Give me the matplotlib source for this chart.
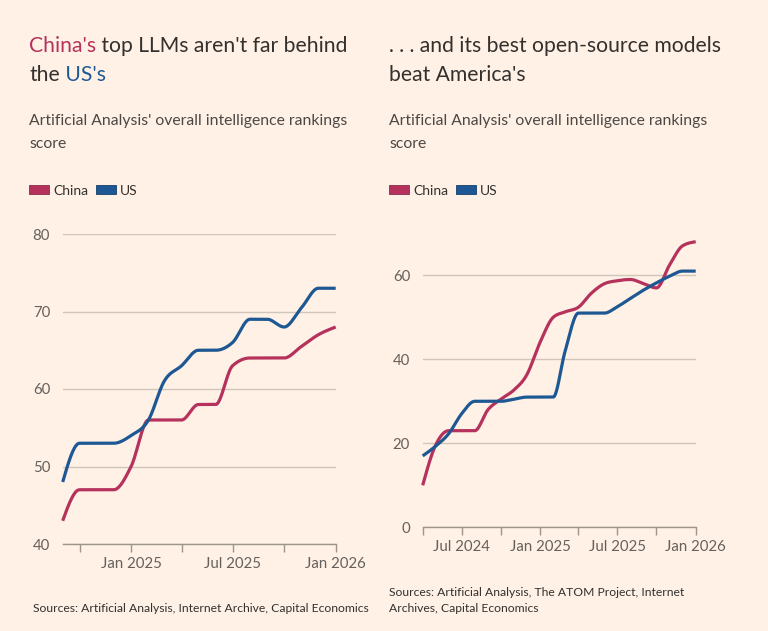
import matplotlib
matplotlib.use('Agg')
import matplotlib.pyplot as plt
import matplotlib.dates as mdates
from matplotlib.patches import Patch
import numpy as np
import pandas as pd

# data (monthly)
left_months = pd.date_range('2024-09-01', '2026-01-01', freq='MS')
left_china = [43, 47, 47, 47, 50, 56, 56, 56, 58, 58, 63, 64, 64, 64, 65.5, 67, 68]
left_us = [48, 53, 53, 53, 54, 56, 61, 63, 65, 65, 66, 69, 69, 68, 70.5, 73, 73]

right_months = pd.date_range('2024-04-01', '2026-01-01', freq='MS')
right_china = [10, 19.5, 23, 23, 23, 28, 30.5, 32.7, 36.3, 44, 50, 51.3, 52.4,
               55.7, 58, 58.7, 59, 58, 57, 62.5, 67, 68]
right_us = [17, 19.3, 22.3, 27, 30, 30, 30, 30.5, 31, 31, 31, 42, 51, 51, 51,
            52.5, 54.5, 56.5, 58.2, 59.8, 61, 61]

BG = '#FFF1E5'
RED = '#B5325D'
BLUE = '#1E5894'
DARK = '#33302E'
GREY = '#66605C'
FONT = ['Lato', 'DejaVu Sans']


def monotone(x, y, n=30):
    # monotone cubic curve, like d3.curveMonotoneX
    x = np.asarray(x, float)
    y = np.asarray(y, float)
    h = np.diff(x)
    s = np.diff(y) / h
    t = np.zeros(len(x))
    for i in range(1, len(x) - 1):
        p = (s[i - 1] * h[i] + s[i] * h[i - 1]) / (h[i - 1] + h[i])
        t[i] = (np.sign(s[i - 1]) + np.sign(s[i])) * min(abs(s[i - 1]), abs(s[i]), 0.5 * abs(p))
    t[0] = (3 * s[0] - t[1]) / 2
    t[-1] = (3 * s[-1] - t[-2]) / 2
    xs, ys = [], []
    for i in range(len(x) - 1):
        u = np.linspace(0, 1, n, endpoint=(i == len(x) - 2))
        h00 = 2 * u**3 - 3 * u**2 + 1
        h10 = u**3 - 2 * u**2 + u
        h01 = -2 * u**3 + 3 * u**2
        h11 = u**3 - u**2
        xs.append(x[i] + u * h[i])
        ys.append(h00 * y[i] + h10 * h[i] * t[i] + h01 * y[i + 1] + h11 * h[i] * t[i + 1])
    return np.concatenate(xs), np.concatenate(ys)


plt.rcParams['font.family'] = FONT
fig = plt.figure(figsize=(7.68, 6.31), dpi=100, facecolor=BG)

W, H = 768, 631


def fx(px):
    return px / W


def fy(py):
    return 1 - py / H


def month_fmt(x, pos):
    d = mdates.num2date(x)
    return d.strftime('%b %Y') if d.month in (1, 7) else ''


def style_axes(ax, months, yticks, ylim, tick_months):
    ax.set_facecolor(BG)
    for side in ('top', 'right', 'left'):
        ax.spines[side].set_visible(False)
    ax.spines['bottom'].set_color('#9d948c')
    ax.spines['bottom'].set_linewidth(1)
    ax.set_xlim(mdates.date2num(months[0]), mdates.date2num(months[-1]))
    ax.set_ylim(*ylim)
    ax.set_yticks(yticks)
    ax.grid(axis='y', color='#cfc5ba', linewidth=1)
    ax.set_axisbelow(True)
    ax.xaxis.set_major_locator(mdates.MonthLocator(bymonth=tick_months))
    ax.xaxis.set_major_formatter(plt.FuncFormatter(month_fmt))
    ax.tick_params(axis='x', length=6, width=1, color='#9d948c', pad=3.5,
                   labelsize=10.8, labelcolor=GREY)
    ax.tick_params(axis='y', length=0, pad=9, labelsize=10.8, labelcolor=GREY)


def draw_lines(ax, months, china, us):
    xn = mdates.date2num(months)
    for vals, col in ((china, RED), (us, BLUE)):
        sx, sy = monotone(xn, vals)
        ax.plot(sx, sy, color=col, linewidth=2.3, solid_capstyle='butt', clip_on=False)


# left panel
axL = fig.add_axes([fx(62.7), fy(544), fx(273), 310 / H])
style_axes(axL, left_months, [40, 50, 60, 70, 80], (40, 80), [1, 4, 7, 10])
draw_lines(axL, left_months, left_china, left_us)

# right panel
axR = fig.add_axes([fx(422.7), fy(527.3), fx(273), 285.6 / H])
style_axes(axR, right_months, [0, 20, 40, 60], (0, 68), [1, 4, 7, 10])
draw_lines(axR, right_months, right_china, right_us)

# titles
TS = 15.2
t1 = fig.text(fx(29), fy(52), "China's", color=RED, fontsize=TS, va='baseline')
axL.annotate(" top LLMs aren't far behind", xy=(1, 0), xycoords=t1, va='bottom',
             fontsize=TS, color=DARK)
t2 = fig.text(fx(29), fy(81), "the", color=DARK, fontsize=TS, va='baseline')
axL.annotate(" US's", xy=(1, 0), xycoords=t2, va='bottom', fontsize=TS, color=BLUE)

fig.text(fx(389), fy(52), ". . . and its best open-source models", color=DARK,
         fontsize=TS, va='baseline')
fig.text(fx(389), fy(81), "beat America's", color=DARK, fontsize=TS, va='baseline')

# subtitles
SS = 11.35
for x0 in (29, 389):
    fig.text(fx(x0), fy(125.5), "Artificial Analysis' overall intelligence rankings",
             color='#4d4845', fontsize=SS, va='baseline')
    fig.text(fx(x0), fy(148.5), "score", color='#4d4845', fontsize=SS, va='baseline')

# legends
handles = [Patch(facecolor=RED, edgecolor='#8a2a48', linewidth=0.6, label='China'),
           Patch(facecolor=BLUE, edgecolor='#173f6a', linewidth=0.6, label='US')]
for ax, x0 in ((axL, 29), (axR, 389)):
    ax.legend(handles=handles, loc='center left', bbox_to_anchor=(fx(x0), fy(190.5)),
              bbox_transform=fig.transFigure, ncol=2, frameon=False, fontsize=10,
              handlelength=1.45, handleheight=0.66, handletextpad=0.3,
              columnspacing=0.55, borderpad=0, borderaxespad=0, labelcolor=DARK)

# sources
SRC = 8.7
fig.text(fx(33), fy(612.5), "Sources: Artificial Analysis, Internet Archive, Capital Economics",
         color=DARK, fontsize=SRC, va='baseline')
fig.text(fx(389), fy(596.5), "Sources: Artificial Analysis, The ATOM Project, Internet",
         color=DARK, fontsize=SRC, va='baseline')
fig.text(fx(389), fy(612.5), "Archives, Capital Economics",
         color=DARK, fontsize=SRC, va='baseline')

fig.savefig('out.png', dpi=100, facecolor=BG)
